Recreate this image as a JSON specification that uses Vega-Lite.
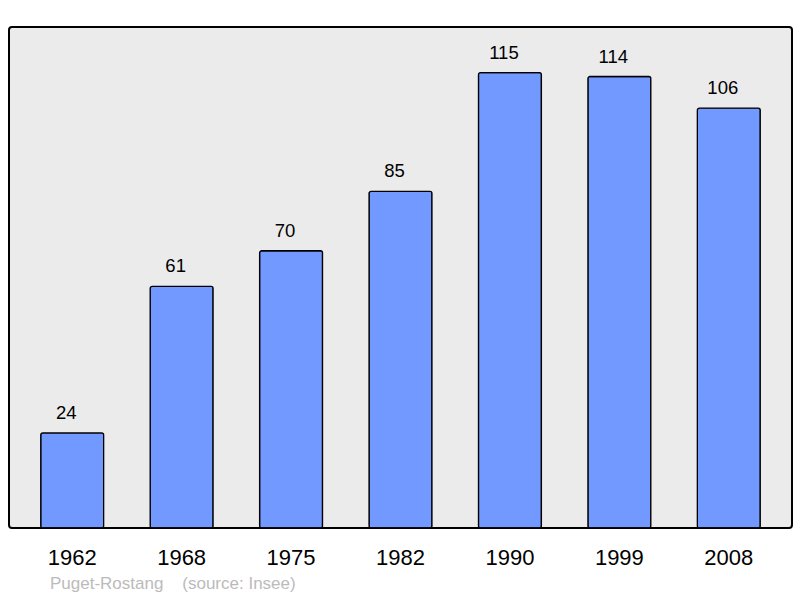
{
  "$schema": "https://vega.github.io/schema/vega-lite/v6.json",
  "autosize": "none",
  "width": 783,
  "height": 501,
  "padding": {"left": 9, "top": 27, "right": 8, "bottom": 70},
  "background": "white",
  "config": {
    "font": "Liberation Sans",
    "view": {"fill": "#ebebeb", "stroke": "black", "strokeWidth": 2, "cornerRadius": 3}
  },
  "title": {
    "text": "Puget-Rostang\u00a0\u00a0\u00a0\u00a0(source: Insee)",
    "orient": "bottom",
    "anchor": "start",
    "frame": "group",
    "dx": 41,
    "offset": 8,
    "fontSize": 17,
    "fontWeight": "normal",
    "color": "#bbbbbb",
    "font": "Liberation Sans"
  },
  "data": {
    "values": [
      {"year": "1962", "pop": 24},
      {"year": "1968", "pop": 61},
      {"year": "1975", "pop": 70},
      {"year": "1982", "pop": 85},
      {"year": "1990", "pop": 115},
      {"year": "1999", "pop": 114},
      {"year": "2008", "pop": 106}
    ]
  },
  "encoding": {
    "x": {
      "field": "year",
      "type": "nominal",
      "sort": null,
      "scale": {"paddingInner": 0.425, "paddingOuter": 0.29},
      "axis": {
        "title": null,
        "domain": false,
        "ticks": false,
        "labelAngle": 0,
        "labelFontSize": 22,
        "labelColor": "black",
        "labelPadding": 19,
        "labelFont": "Liberation Sans"
      }
    },
    "y": {
      "field": "pop",
      "type": "quantitative",
      "scale": {"domain": [0, 126.5], "nice": false},
      "axis": null
    }
  },
  "layer": [
    {
      "mark": {"type": "bar", "fill": "#7299ff", "stroke": "black", "strokeWidth": 1.3, "cornerRadius": 2}
    },
    {
      "mark": {"type": "text", "dy": -14, "dx": -6, "baseline": "alphabetic", "fontSize": 18.5, "color": "black", "font": "Liberation Sans"},
      "encoding": {"text": {"field": "pop", "type": "quantitative"}}
    }
  ]
}
